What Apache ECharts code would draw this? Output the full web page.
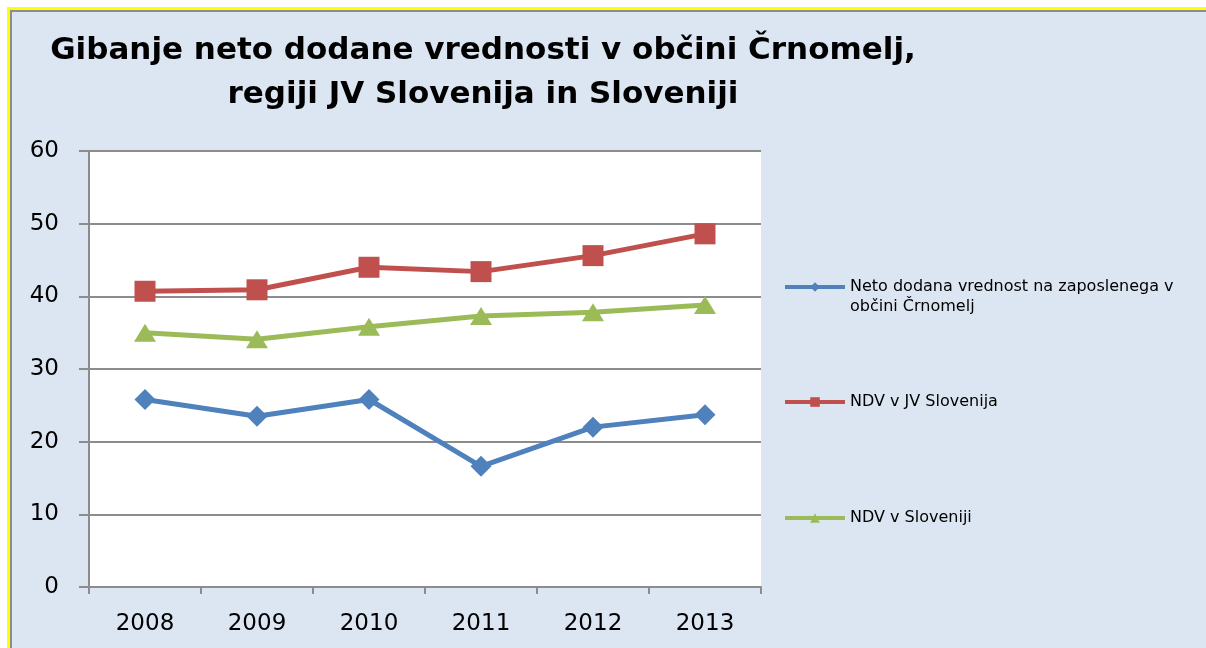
<!DOCTYPE html>
<html>
<head>
<meta charset="utf-8">
<script src="https://cdn.jsdelivr.net/npm/echarts@6/dist/echarts.min.js"></script>
<style>
    html, body { margin: 0; overflow: hidden; }
    #wrap {
        position: relative; width: 1206px; height: 648px; overflow: hidden;
        background:
            linear-gradient(#dce6f2, #dce6f2) 12px 12px / 1300px 700px no-repeat,
            linear-gradient(#8c8c8c, #8c8c8c) 10px 10px / 1300px 700px no-repeat,
            linear-gradient(#ffff00, #ffff00) 7px 7px / 1300px 700px no-repeat,
            #fff;
    }
    #main { position: absolute; left: 0; top: 0; width: 1206px; height: 648px; }
</style>
</head>
<body>
<div id="wrap"><div id="main"></div></div>
<script>
// podatki
var years = ['2008', '2009', '2010', '2011', '2012', '2013'];
var crnomelj = [25.8, 23.5, 25.8, 16.6, 22.0, 23.7];
var jvSlovenija = [40.7, 40.9, 44.0, 43.4, 45.6, 48.6];
var slovenija = [35.0, 34.1, 35.8, 37.3, 37.8, 38.8];
var names = ['Neto dodana vrednost na zaposlenega v\nobčini Črnomelj', 'NDV v JV Slovenija', 'NDV v Sloveniji'];

var font = 'DejaVu Sans';
var gray = '#8c8c8c';

var myChart = echarts.init(document.getElementById('main'));

// vsaka legenda posebej, da je razmik kot na sliki
function legendAt(name, top, fmt) {
    return {
        data: [name],
        left: 783,
        top: top,
        padding: 0,
        itemWidth: 60,
        itemHeight: 12,
        formatter: fmt,
        lineStyle: { width: 4 },
        textStyle: {
            fontFamily: font, fontSize: 16, color: '#000', lineHeight: 20
        }
    };
}

var option = {
    animation: false,
    backgroundColor: 'transparent',
    title: {
        text: 'Gibanje neto dodane vrednosti v občini Črnomelj,\nregiji JV Slovenija in Sloveniji',
        left: 478,
        top: 24,
        textAlign: 'center',
        textStyle: {
            fontFamily: font, fontWeight: 'bold', fontSize: 31,
            lineHeight: 44, color: '#000'
        }
    },
    legend: [
        legendAt(names[0], 257, function (name) { return '\n' + name; }),
        legendAt(names[1], 392),
        legendAt(names[2], 508)
    ],
    grid: {
        left: 89, top: 151, right: 445, bottom: 61,
        show: true, backgroundColor: '#fff', borderWidth: 0
    },
    xAxis: {
        type: 'category',
        data: years,
        axisLine: { lineStyle: { color: gray, width: 2 } },
        axisTick: { show: true, length: 7, lineStyle: { color: gray, width: 2 } },
        axisLabel: { fontFamily: font, fontSize: 23, color: '#000', margin: 26 }
    },
    yAxis: {
        type: 'value',
        min: 0, max: 60, interval: 10,
        axisLine: { show: true, lineStyle: { color: gray, width: 2 } },
        axisTick: { show: true, length: 10, lineStyle: { color: gray, width: 2 } },
        axisLabel: { fontFamily: font, fontSize: 23, color: '#000', margin: 30 },
        splitLine: { lineStyle: { color: gray, width: 2 } }
    },
    series: [
        {
            name: names[0], type: 'line', data: crnomelj,
            symbol: 'diamond', symbolSize: 21,
            itemStyle: { color: '#4f81bd' },
            lineStyle: { width: 5, color: '#4f81bd' }
        },
        {
            name: names[1], type: 'line', data: jvSlovenija,
            symbol: 'rect', symbolSize: 21,
            itemStyle: { color: '#c0504d' },
            lineStyle: { width: 5, color: '#c0504d' }
        },
        {
            name: names[2], type: 'line', data: slovenija,
            symbol: 'triangle', symbolSize: [22, 18],
            itemStyle: { color: '#9bbb59' },
            lineStyle: { width: 5, color: '#9bbb59' }
        }
    ]
};

myChart.setOption(option);
</script>
</body>
</html>
